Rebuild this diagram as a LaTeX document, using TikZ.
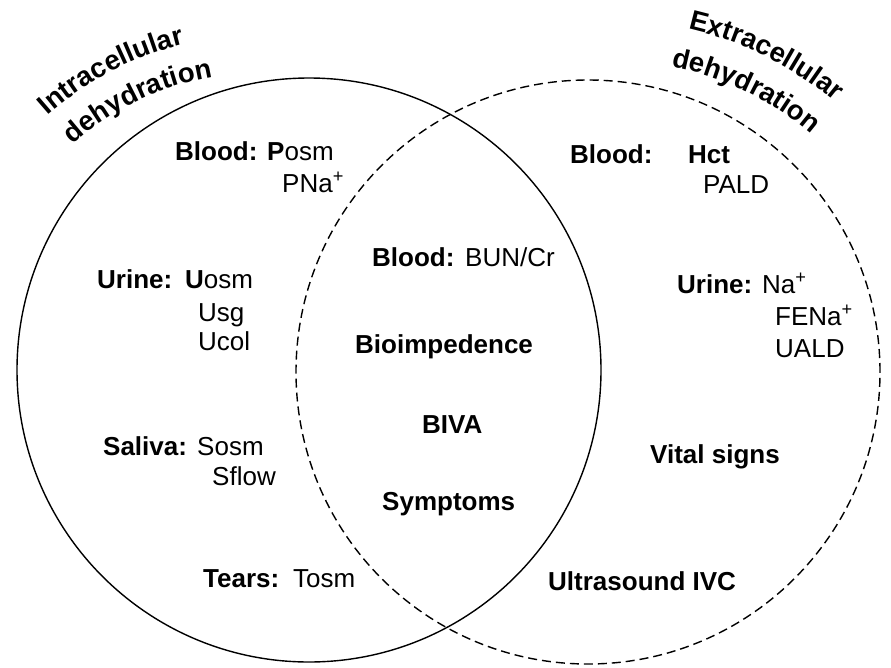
\documentclass[tikz,border=0pt]{standalone}
\usepackage{fontspec}
\setmainfont{Liberation Sans}
\usetikzlibrary{decorations.text}
\newcommand{\vfnt}{\fontsize{26}{30}\selectfont}
\newcommand{\cfnt}{\fontsize{27.5}{30}\selectfont}
\begin{document}
\begin{tikzpicture}[x=1pt,y=1pt,
  lbl/.style={anchor=base west, inner sep=0pt, font=\vfnt\bfseries},
  val/.style={anchor=base west, inner sep=0pt, font=\vfnt},
  ring/.style={line width=1.4pt},
  dring/.style={line width=1.4pt, dash pattern=on 9pt off 5pt},
  curved/.style={decorate, decoration={text along path, text={|\cfnt\bfseries|#1}, text align=center}}]
\useasboundingbox (0,0) rectangle (891,-667);
\draw[ring] (309,-370) circle[radius=292];
\draw[dring] (588,-372) circle[radius=292];
% curved titles
\path[curved=Intracellular] (260,-355) ++(147.6:320) arc[start angle=147.6, end angle=87.6, radius=320];
\path[curved=dehydration] (260,-355) ++(145.6:282) arc[start angle=145.6, end angle=85.6, radius=282];
\path[curved=Extracellular] (610,-370) ++(93.6:350) arc[start angle=93.6, end angle=33.6, radius=350];
\path[curved=dehydration] (610,-370) ++(94:310) arc[start angle=94, end angle=34, radius=310];
% left
\node[lbl] (bl1) at (175,-160) {Blood:};
\node[val] (bl1v) at (267,-160) {\textbf{P}osm};
\node[val] (bl1w) at (282,-192) {PNa\textsuperscript{+}};
\node[lbl] (ur1) at (97,-288) {Urine:};
\node[val] (ur1v) at (185,-288) {\textbf{U}osm};
\node[val] (ur1w) at (198,-321) {Usg};
\node[val] (ur1x) at (198,-350) {Ucol};
\node[lbl] (sa1) at (103,-455) {Saliva:};
\node[val] (sa1v) at (197,-455) {Sosm};
\node[val] (sa1w) at (212,-485) {Sflow};
\node[lbl] (te1) at (203,-587) {Tears:};
\node[val] (te1v) at (293,-587) {Tosm};
% middle
\node[lbl] (bl2) at (372,-266) {Blood:};
\node[val] (bl2v) at (465,-266) {BUN/Cr};
\node[lbl] (bio) at (355,-353) {Bioimpedence};
\node[lbl] (biva) at (422,-433) {BIVA};
\node[lbl] (sym) at (382,-510) {Symptoms};
% right
\node[lbl] (bl3) at (570,-163) {Blood:};
\node[lbl] (bl3v) at (688,-163) {Hct};
\node[val] (bl3w) at (703,-193) {PALD};
\node[lbl] (ur3) at (677,-293) {Urine:};
\node[val] (ur3v) at (762,-293) {Na\textsuperscript{+}};
\node[val] (ur3w) at (775,-325) {FENa\textsuperscript{+}};
\node[val] (ur3x) at (775,-357) {UALD};
\node[lbl] (vit) at (650,-463) {Vital signs};
\node[lbl] (us) at (548,-590) {Ultrasound IVC};
\end{tikzpicture}
\end{document}
